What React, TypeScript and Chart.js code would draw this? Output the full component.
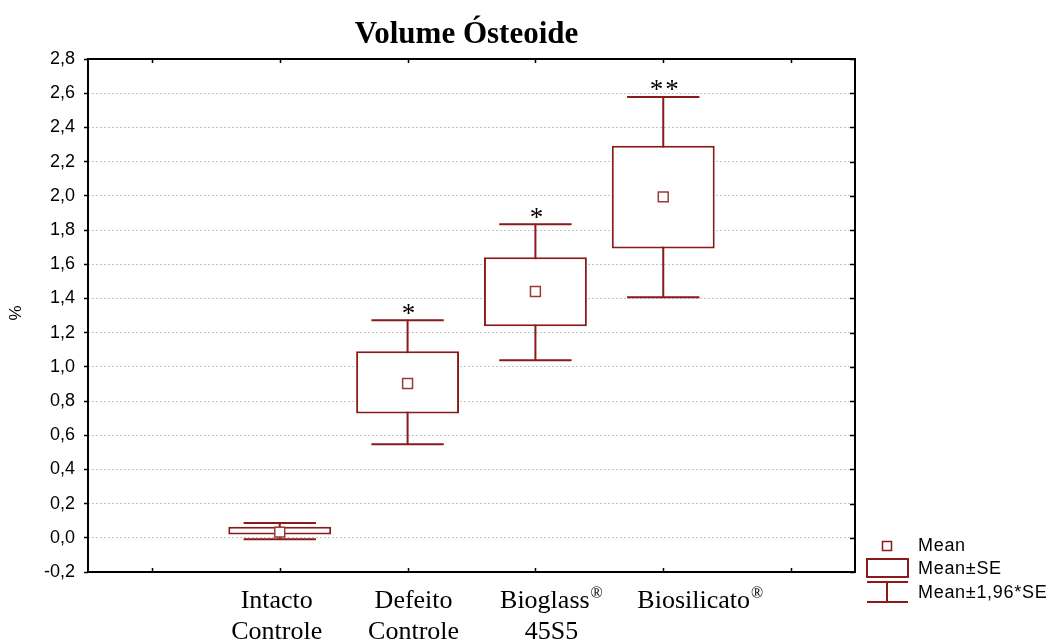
import React, { useEffect, useRef } from 'react';
import { Chart, registerables } from 'chart.js';

Chart.register(...registerables);

// ---------- data ----------
const categories = ['', 'Intacto\nControle', 'Defeito\nControle', 'Bioglass®\n45S5', 'Biosilicato®', ''];
const means = [null, 0.033, 0.902, 1.44, 1.994, null];
const seLow = [null, 0.019, 0.727, 1.237, 1.692, null];
const seHigh = [null, 0.064, 1.091, 1.641, 2.292, null];
const ciLow = [null, -0.008, 0.547, 1.039, 1.407, null];
const ciHigh = [null, 0.087, 1.272, 1.834, 2.578, null];
const significance = ['', '', '*', '*', '**', ''];
const yMin = -0.2;
const yMax = 2.8;
const yStep = 0.2;
const legendLabels = ['Mean', 'Mean±SE', 'Mean±1,96*SE'];
const chartTitle = 'Volume Ósteoide';
const yAxisTitle = '%';

// ---------- styles ----------
const RED = '#8b1a1a';
const SERIF = '"Liberation Serif", "Times New Roman", serif';
const SANS = '"Liberation Sans", Arial, sans-serif';
const labelOffsets = [0, -3, 6, 16, 37, 0];

function drawCategoryLabel(ctx: CanvasRenderingContext2D, text: string, cx: number, baseline: number) {
  const hasReg = text.includes('®');
  const main = text.replace('®', '');
  ctx.font = `26px ${SERIF}`;
  const w = ctx.measureText(main).width;
  let regW = 0;
  if (hasReg) {
    ctx.font = `16px ${SERIF}`;
    regW = ctx.measureText('®').width + 1;
  }
  const start = cx - (w + regW) / 2;
  ctx.textAlign = 'left';
  ctx.textBaseline = 'alphabetic';
  ctx.font = `26px ${SERIF}`;
  ctx.fillText(main, start, baseline);
  if (hasReg) {
    ctx.font = `16px ${SERIF}`;
    ctx.fillText('®', start + w + 1, baseline - 10);
  }
}

const customPlugin = {
  id: 'customDraw',
  beforeDatasetsDraw(chart: any) {
    const ctx: CanvasRenderingContext2D = chart.ctx;
    const xs = chart.scales.x;
    const ys = chart.scales.y;
    const slot = xs.width / categories.length;
    const half = slot * 0.283;
    ctx.save();
    ctx.strokeStyle = RED;
    ctx.lineWidth = 2;
    for (let i = 0; i < categories.length; i++) {
      const lo = ciLow[i];
      const hi = ciHigh[i];
      if (lo == null || hi == null) continue;
      const x = xs.getPixelForValue(i);
      const yl = ys.getPixelForValue(lo);
      const yh = ys.getPixelForValue(hi);
      ctx.beginPath();
      ctx.moveTo(x, yl);
      ctx.lineTo(x, yh);
      ctx.moveTo(x - half, yl);
      ctx.lineTo(x + half, yl);
      ctx.moveTo(x - half, yh);
      ctx.lineTo(x + half, yh);
      ctx.stroke();
    }
    ctx.restore();
  },
  afterDraw(chart: any) {
    const ctx: CanvasRenderingContext2D = chart.ctx;
    const xs = chart.scales.x;
    const ys = chart.scales.y;
    const a = chart.chartArea;
    ctx.save();

    // frame
    ctx.strokeStyle = '#000';
    ctx.lineWidth = 2;
    ctx.strokeRect(a.left, a.top, a.right - a.left, a.bottom - a.top);

    // inward ticks
    ctx.lineWidth = 1.5;
    ctx.beginPath();
    for (let i = 0; i < categories.length; i++) {
      const x = Math.round(xs.getPixelForValue(i)) + 0.5;
      ctx.moveTo(x, a.bottom);
      ctx.lineTo(x, a.bottom - 4);
      ctx.moveTo(x, a.top);
      ctx.lineTo(x, a.top + 4);
    }
    ys.ticks.forEach((t: any) => {
      const y = Math.round(ys.getPixelForValue(t.value)) + 0.5;
      ctx.moveTo(a.right, y);
      ctx.lineTo(a.right - 5, y);
    });
    ctx.stroke();

    // title
    ctx.fillStyle = '#000';
    ctx.font = `bold 31px ${SERIF}`;
    ctx.textAlign = 'center';
    ctx.textBaseline = 'alphabetic';
    ctx.fillText(chartTitle, (a.left + a.right) / 2 - 5, 43);

    // y axis title
    ctx.save();
    ctx.translate(16, 313);
    ctx.rotate(-Math.PI / 2);
    ctx.font = `17px ${SANS}`;
    ctx.textAlign = 'center';
    ctx.textBaseline = 'middle';
    ctx.fillText(yAxisTitle, 0, 0);
    ctx.restore();

    // category labels
    for (let i = 0; i < categories.length; i++) {
      if (!categories[i]) continue;
      const lines = categories[i].split('\n');
      const cx = xs.getPixelForValue(i) + labelOffsets[i];
      lines.forEach((ln, k) => drawCategoryLabel(ctx, ln, cx, a.bottom + 36 + k * 31));
    }

    // significance stars
    ctx.font = `27px ${SERIF}`;
    ctx.textAlign = 'center';
    ctx.textBaseline = 'alphabetic';
    for (let i = 0; i < categories.length; i++) {
      const s = significance[i];
      const hi = ciHigh[i];
      if (!s || hi == null) continue;
      (ctx as any).letterSpacing = s.length > 1 ? '2px' : '0px';
      const m = ctx.measureText(s);
      const target = ys.getPixelForValue(hi) - 11;
      const base = target + (m.actualBoundingBoxAscent - m.actualBoundingBoxDescent) / 2;
      ctx.fillText(s, xs.getPixelForValue(i) + (s.length > 1 ? 2 : 1), base);
    }
    (ctx as any).letterSpacing = '0px';

    // legend
    const lx = 887;
    ctx.strokeStyle = RED;
    ctx.fillStyle = '#fff';
    ctx.lineWidth = 1.5;
    ctx.fillRect(lx - 4.5, 541.5, 9, 9);
    ctx.strokeRect(lx - 4.5, 541.5, 9, 9);
    ctx.lineWidth = 2;
    ctx.strokeRect(867, 559, 41, 18);
    ctx.beginPath();
    ctx.moveTo(867, 582);
    ctx.lineTo(908, 582);
    ctx.moveTo(lx, 582);
    ctx.lineTo(lx, 602);
    ctx.moveTo(867, 602);
    ctx.lineTo(908, 602);
    ctx.stroke();
    ctx.fillStyle = '#000';
    ctx.font = `18px ${SANS}`;
    (ctx as any).letterSpacing = '0.7px';
    ctx.textAlign = 'left';
    ctx.textBaseline = 'middle';
    const ly = [546, 569.5, 593];
    legendLabels.forEach((t, k) => ctx.fillText(t, 918, ly[k]));
    (ctx as any).letterSpacing = '0px';

    ctx.restore();
  },
};

export default function App() {
  const ref = useRef<HTMLCanvasElement | null>(null);
  useEffect(() => {
    if (!ref.current) return;
    const chart = new Chart(ref.current, {
      type: 'bar',
      data: {
        labels: categories,
        datasets: [
          {
            type: 'line',
            label: legendLabels[0],
            data: means as any,
            showLine: false,
            pointStyle: 'rect',
            pointRadius: 7,
            pointHoverRadius: 7,
            pointBackgroundColor: '#fff',
            pointBorderColor: '#9c3838',
            pointBorderWidth: 1.5,
            order: 1,
          } as any,
          {
            type: 'bar',
            label: legendLabels[1],
            data: seLow.map((l, i) => (l == null || seHigh[i] == null ? null : [l, seHigh[i]])) as any,
            backgroundColor: '#fff',
            borderColor: RED,
            borderWidth: 2,
            borderSkipped: false,
            barPercentage: 0.805,
            categoryPercentage: 1,
            order: 2,
          } as any,
        ],
      },
      options: {
        animation: false,
        responsive: true,
        maintainAspectRatio: false,
        layout: { padding: { top: 59, right: 197, bottom: 0, left: 0 } },
        plugins: {
          legend: { display: false },
          tooltip: { enabled: false },
          title: { display: false },
        },
        scales: {
          x: {
            type: 'category',
            offset: true,
            grid: { display: false },
            border: { display: false },
            ticks: { display: false },
            afterFit: (s: any) => {
              s.height = 70;
            },
          },
          y: {
            min: yMin,
            max: yMax,
            grid: {
              color: '#c4c4c4',
              lineWidth: 1,
              tickColor: '#000',
              tickLength: 4,
              tickWidth: 1.5,
              tickBorderDash: [],
            },
            border: { display: false, dash: [2, 2] },
            ticks: {
              stepSize: yStep,
              padding: 9,
              color: '#000',
              font: { family: SANS, size: 18 },
              callback: (v: any) => Number(v).toFixed(1).replace('.', ','),
            },
            afterFit: (s: any) => {
              s.width = 88;
            },
          },
        },
      },
      plugins: [customPlugin],
    });
    return () => chart.destroy();
  }, []);
  return (
    <div style={{ position: 'fixed', left: 0, top: 0, width: 1052, height: 642, background: '#fff' }}>
      <canvas ref={ref} />
    </div>
  );
}
